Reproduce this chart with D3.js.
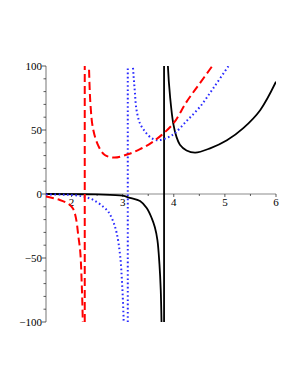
<!DOCTYPE html>
<html>
<head>
<meta charset="utf-8">
<script src="https://cdn.jsdelivr.net/npm/d3@7"></script>
<style>
  body { margin: 0; background: #fff; }
  svg { display: block; }
  .tick-label { font-family: "Liberation Serif", "DejaVu Serif", serif; font-size: 11px; fill: #000; }
</style>
</head>
<body>
<div id="chart"></div>
<script>
// Curves, [x, y] pairs, one array per branch
const redLeft = [
  [1.5, -2.0], [1.65, -3.3], [1.77, -4.7], [1.9, -6.8], [1.97, -8.6], [2.03, -11.5],
  [2.07, -16], [2.1, -22], [2.13, -32], [2.17, -45], [2.2, -71], [2.22, -100], [2.23, -125]
];
const redRight = [
  [2.32, 125], [2.34, 100], [2.37, 70], [2.42, 51], [2.52, 38], [2.65, 30.5], [2.84, 28.5],
  [3.1, 31], [3.34, 35], [3.56, 40], [3.76, 46], [4.0, 55.5], [4.25, 72], [4.51, 86.5], [4.77, 101], [4.85, 106]
];
const blueLeft = [
  [1.5, -0.3], [1.8, -0.5], [2.0, -0.8], [2.23, -2], [2.43, -4.7], [2.62, -10],
  [2.72, -14], [2.8, -20], [2.88, -30], [2.95, -48], [2.99, -71], [3.02, -100], [3.03, -125]
];
const blueRight = [
  [3.19, 115], [3.2, 100], [3.22, 89], [3.24, 79], [3.27, 66], [3.34, 55], [3.44, 48.7], [3.57, 43.5],
  [3.7, 42], [3.89, 44.3], [4.02, 47.5], [4.25, 57], [4.51, 68], [4.77, 82.5], [5.07, 100], [5.15, 105]
];
const blackLeft = [
  [1.5, 0], [2.5, -0.3], [3.0, -1.3], [3.14, -3], [3.34, -5.5], [3.47, -11], [3.57, -19],
  [3.63, -26], [3.68, -36], [3.72, -55], [3.745, -75], [3.76, -100], [3.765, -115]
];
const blackRight = [
  [3.875, 125], [3.885, 100], [3.93, 75], [3.99, 55], [4.05, 45], [4.12, 38.5], [4.25, 34], [4.42, 32.3],
  [4.71, 35.7], [5.04, 42], [5.36, 51.5], [5.69, 65.5], [6.0, 87.7]
];
// x of the near-vertical jump each curve draws across its pole
const poles = { red: 2.258, blue: 3.1, black: 3.81 };

const xTicks = [2, 3, 4, 5, 6];
const xMinorTicks = [2.5, 3.5, 4.5, 5.5];
const yTicks = [-100, -50, 0, 50, 100];

const width = 300, height = 388;
const svg = d3.select('#chart').append('svg')
  .attr('width', width)
  .attr('height', height);

const x = d3.scaleLinear().domain([1.5, 6]).range([46, 276]);
const y = d3.scaleLinear().domain([-100, 100]).range([322, 66]);

svg.append('clipPath').attr('id', 'plot-clip')
  .append('rect')
  .attr('x', x(1.5)).attr('y', y(100))
  .attr('width', x(6) - x(1.5)).attr('height', y(-100) - y(100));

const axisColor = '#8c8c8c';

// y axis with minor ticks every 10
const yAxis = svg.append('g').attr('transform', `translate(${x(1.5)},0)`);
yAxis.append('line')
  .attr('y1', y(-100)).attr('y2', y(100))
  .attr('stroke', axisColor).attr('stroke-width', 1.2);
yAxis.selectAll('.minor')
  .data(d3.range(-100, 101, 10))
  .join('line')
  .attr('x1', d => yTicks.includes(d) ? -4 : -2.5).attr('x2', 0)
  .attr('y1', d => y(d)).attr('y2', d => y(d))
  .attr('stroke', '#333').attr('stroke-width', 0.8);
yAxis.selectAll('.tick-label')
  .data(yTicks)
  .join('text')
  .attr('class', 'tick-label')
  .attr('x', -4)
  .attr('y', d => y(d))
  .attr('dy', '0.35em')
  .attr('text-anchor', 'end')
  .text(d => d < 0 ? '\u2212' + Math.abs(d) : d);

// x axis sits at y = 0
const xAxis = svg.append('g').attr('transform', `translate(0,${y(0)})`);
xAxis.append('line')
  .attr('x1', x(1.5)).attr('x2', x(6))
  .attr('stroke', axisColor).attr('stroke-width', 1.2);
xAxis.selectAll('.xtick')
  .data(xTicks.concat(xMinorTicks))
  .join('line')
  .attr('x1', d => x(d)).attr('x2', d => x(d))
  .attr('y1', 0).attr('y2', d => xTicks.includes(d) ? 3 : 2)
  .attr('stroke', '#333').attr('stroke-width', 0.8);
xAxis.selectAll('.tick-label')
  .data(xTicks)
  .join('text')
  .attr('class', 'tick-label')
  .attr('x', d => x(d))
  .attr('y', 4)
  .attr('dy', '0.71em')
  .attr('text-anchor', 'middle')
  .text(d => d);

// curves
const line = d3.line()
  .x(d => x(d[0]))
  .y(d => y(d[1]))
  .curve(d3.curveCatmullRom.alpha(0.5));

const plot = svg.append('g').attr('clip-path', 'url(#plot-clip)');

const styles = [
  { key: 'black', branches: [blackLeft, blackRight], color: '#000', width: 1.8, dash: null },
  { key: 'blue', branches: [blueLeft, blueRight], color: '#2b2bff', width: 2, dash: '1.6,2.6' },
  { key: 'red', branches: [redLeft, redRight], color: '#ff0000', width: 2, dash: '8,4' }
];

styles.forEach(s => {
  const g = plot.append('g')
    .attr('fill', 'none')
    .attr('stroke', s.color)
    .attr('stroke-width', s.width)
    .attr('stroke-dasharray', s.dash);
  g.selectAll('path')
    .data(s.branches)
    .join('path')
    .attr('d', line);
  g.append('line')
    .attr('x1', x(poles[s.key])).attr('x2', x(poles[s.key]))
    .attr('y1', y(-100)).attr('y2', y(100));
});
</script>
</body>
</html>
